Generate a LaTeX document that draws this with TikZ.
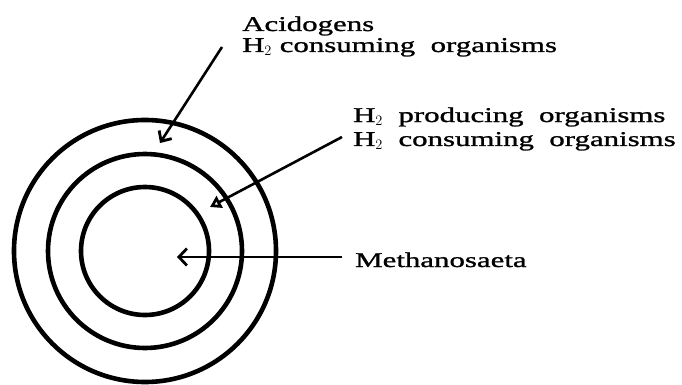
\documentclass[tikz,border=0pt]{standalone}
\usepackage{fontspec}
\setmainfont{Liberation Serif}[FakeStretch=1.47,FakeBold=1.2]
\usetikzlibrary{arrows.meta}
\begin{document}
\begin{tikzpicture}[x=1pt,y=-1pt,
  ring/.style={draw=black,line width=4.6pt},
  pointer/.style={draw=black,line width=2.6pt},
  lbl/.style={anchor=base west,inner sep=0pt,font=\fontsize{21}{21}\selectfont}]
\useasboundingbox (0,0) rectangle (682,385);
% rings
\coordinate (c) at (145,251);
\draw[ring] (c) circle[radius=131];
\draw[ring] (c) circle[radius=97];
\draw[ring] (c) circle[radius=64];
% labels
\node[lbl] (acid) at (242,31) {Acidogens};
\node[lbl] (hcons1) at (242,52) {H$_2$ consuming\ \ organisms};
\node[lbl] (hprod) at (353,122) {H$_2$\ \ producing\ \ organisms};
\node[lbl] (hcons2) at (353,146) {H$_2$\ \ consuming\ \ organisms};
\node[lbl] (meth) at (355,267) {Methanosaeta};
% pointers
\coordinate (s1) at (222,47);
\coordinate (t1) at (160,143);
\coordinate (s2) at (342,137);
\coordinate (t2) at (210,207);
\coordinate (s3) at (342,257);
\coordinate (t3) at (177,257);
\draw[pointer,-{Straight Barb[length=8pt,width=15pt,line width=2.8pt]}] (s1) -- (t1);
\draw[pointer,-{Triangle[open,length=11pt,width=13pt,line width=2.8pt]}] (s2) -- (t2);
\draw[pointer,-{Straight Barb[length=8pt,width=17pt,line width=2.8pt]}] (s3) -- (t3);
\end{tikzpicture}
\end{document}
